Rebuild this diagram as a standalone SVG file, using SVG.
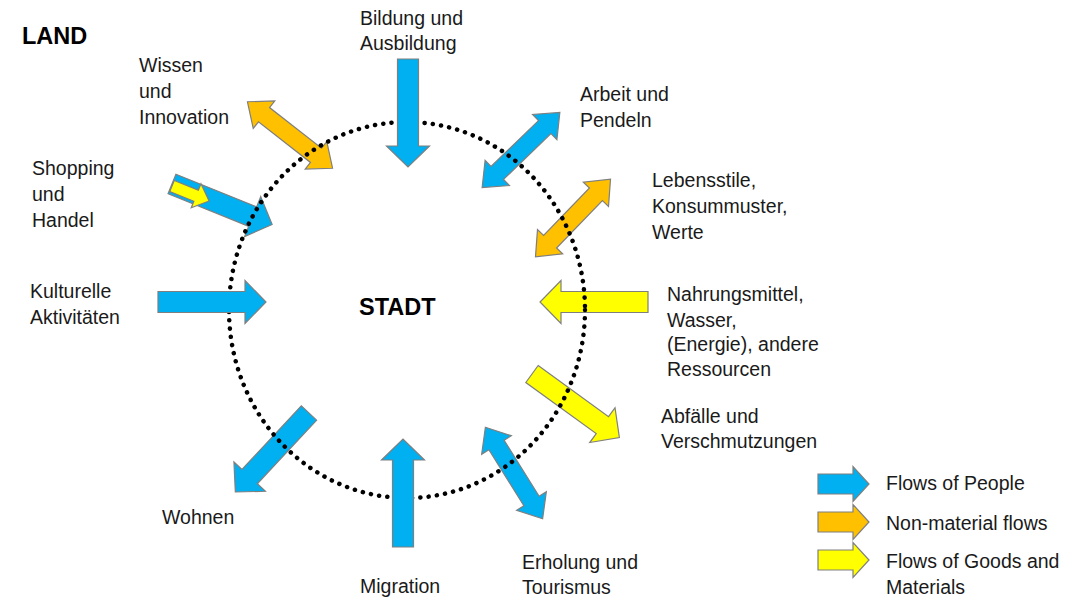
<svg xmlns="http://www.w3.org/2000/svg" xmlns:xlink="http://www.w3.org/1999/xlink" width="1082" height="600" viewBox="0 0 1082 600">
<style>
text{font-family:"Liberation Sans",Arial,sans-serif;font-size:19.5px;fill:#1a1a1a}
.b{font-weight:bold;font-size:23.5px;fill:#000}
.blue{fill:#00B0F0;stroke:#7f7f7f;stroke-width:1.2}
.orange{fill:#FFC000;stroke:#7f7f7f;stroke-width:1.2}
.yellow{fill:#FFFF00;stroke:#7f7f7f;stroke-width:1.2}
.ring{fill:none;stroke:#000;stroke-width:4.5;stroke-dasharray:0.1 8.2;stroke-linecap:round}
</style>
<defs>
<path id="single" d="M0,-10.5 H87 V-21.5 L108,0 L87,21.5 V10.5 H0 Z"/>
<path id="double" d="M-54,0 L-33,-17.5 V-9 H33 V-17.5 L54,0 L33,17.5 V9 H-33 V17.5 Z"/>
<path id="small" d="M0,-6 H26 V-13 L40,0 L26,13 V6 H0 Z"/>
<path id="legarrow" d="M0,-10 H35 V-17.5 L51,0 L35,17.5 V10 H0 Z"/>
</defs>

<g id="land"><text class="b" x="22" y="44">LAND</text></g>
<g id="stadt"><text class="b" x="359" y="315">STADT</text></g>

<g id="connectors">
<use xlink:href="#double" class="orange" transform="translate(290,135) rotate(38)"/>
<use xlink:href="#single" class="blue" transform="translate(172,184) rotate(22)"/>
<use xlink:href="#small" class="yellow" transform="translate(172,186) rotate(22)"/>
<use xlink:href="#double" class="blue" transform="translate(521,150) rotate(-44)"/>
<use xlink:href="#double" class="orange" transform="translate(573,218) rotate(-46)"/>
<use xlink:href="#single" class="yellow" transform="translate(648,302) rotate(180)"/>
<use xlink:href="#single" class="yellow" transform="translate(532,374) rotate(36)"/>
<use xlink:href="#single" class="blue" transform="translate(309,413) rotate(133)"/>
<use xlink:href="#double" class="blue" transform="translate(514,473) rotate(58)"/>
</g>

<g id="ring"><ellipse class="ring" cx="407" cy="310" rx="178" ry="188"/></g>

<g id="bildung">
<use xlink:href="#single" class="blue" transform="translate(408,59) rotate(90)"/>
<text x="360" y="25">Bildung und</text><text x="360" y="50">Ausbildung</text>
</g>
<g id="kulturelle">
<use xlink:href="#single" class="blue" transform="translate(158,302)"/>
<text x="30" y="298">Kulturelle</text><text x="30" y="324">Aktivitäten</text>
</g>
<g id="migration">
<use xlink:href="#single" class="blue" transform="translate(403,547) rotate(-90)"/>
<text x="360" y="593">Migration</text>
</g>

<g id="wissen"><text x="139" y="72">Wissen</text><text x="139" y="98">und</text><text x="139" y="124">Innovation</text></g>
<g id="shopping"><text x="32" y="175">Shopping</text><text x="32" y="201">und</text><text x="32" y="227">Handel</text></g>
<g id="arbeit"><text x="580" y="101">Arbeit und</text><text x="580" y="127">Pendeln</text></g>
<g id="lebensstile"><text x="652" y="187">Lebensstile,</text><text x="652" y="213">Konsummuster,</text><text x="652" y="239">Werte</text></g>
<g id="nahrung"><text x="667" y="301">Nahrungsmittel,</text><text x="667" y="327">Wasser,</text><text x="667" y="351">(Energie), andere</text><text x="667" y="376">Ressourcen</text></g>
<g id="abfaelle"><text x="661" y="423">Abfälle und</text><text x="661" y="448">Verschmutzungen</text></g>
<g id="wohnen"><text x="162" y="524">Wohnen</text></g>
<g id="erholung"><text x="522" y="569">Erholung und</text><text x="522" y="594">Tourismus</text></g>

<g id="legend">
<use xlink:href="#legarrow" class="blue" transform="translate(818,484)"/>
<use xlink:href="#legarrow" class="orange" transform="translate(818,522)"/>
<use xlink:href="#legarrow" class="yellow" transform="translate(818,560)"/>
<text x="886" y="490">Flows of People</text>
<text x="886" y="530">Non-material flows</text>
<text x="886" y="568">Flows of Goods and</text>
<text x="886" y="594">Materials</text>
</g>
</svg>
